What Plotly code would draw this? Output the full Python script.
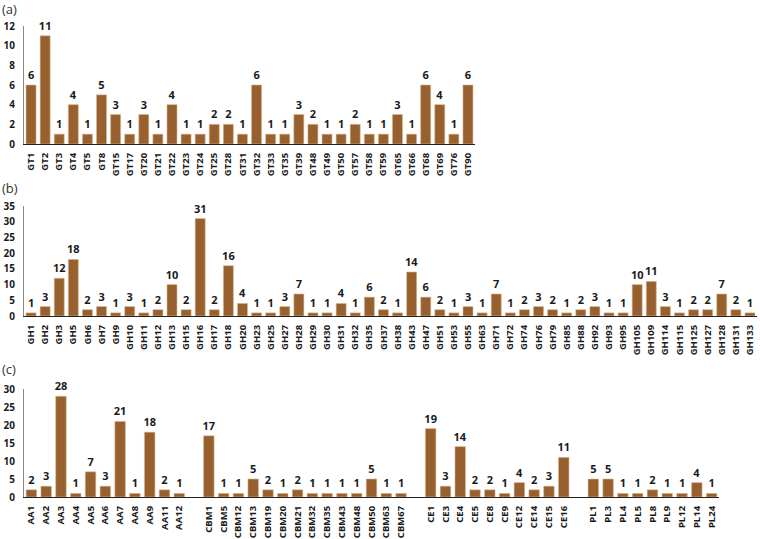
import plotly.graph_objects as go

# Panel (a)
gt_labels = ["GT1","GT2","GT3","GT4","GT5","GT8","GT15","GT17","GT20","GT21","GT22","GT23",
             "GT24","GT25","GT28","GT31","GT32","GT33","GT35","GT39","GT48","GT49","GT50",
             "GT57","GT58","GT59","GT65","GT66","GT68","GT69","GT76","GT90"]
gt_values = [6,11,1,4,1,5,3,1,3,1,4,1,1,2,2,1,6,1,1,3,2,1,1,2,1,1,3,1,6,4,1,6]

# Panel (b)
gh_labels = ["GH1","GH2","GH3","GH5","GH6","GH7","GH9","GH10","GH11","GH12","GH13","GH15",
             "GH16","GH17","GH18","GH20","GH23","GH25","GH27","GH28","GH29","GH30","GH31",
             "GH32","GH35","GH37","GH38","GH43","GH47","GH51","GH53","GH55","GH63","GH71",
             "GH72","GH74","GH76","GH79","GH85","GH88","GH92","GH93","GH95","GH105","GH109",
             "GH114","GH115","GH125","GH127","GH128","GH131","GH133"]
gh_values = [1,3,12,18,2,3,1,3,1,2,10,2,31,2,16,4,1,1,3,7,1,1,4,1,6,2,1,14,6,2,1,3,1,7,
             1,2,3,2,1,2,3,1,1,10,11,3,1,2,2,7,2,1]

# Panel (c) groups
aa_labels = ["AA1","AA2","AA3","AA4","AA5","AA6","AA7","AA8","AA9","AA11","AA12"]
aa_values = [2,3,28,1,7,3,21,1,18,2,1]
cbm_labels = ["CBM1","CBM5","CBM12","CBM13","CBM19","CBM20","CBM21","CBM32","CBM35",
              "CBM43","CBM48","CBM50","CBM63","CBM67"]
cbm_values = [17,1,1,5,2,1,2,1,1,1,1,5,1,1]
ce_labels = ["CE1","CE3","CE4","CE5","CE8","CE9","CE12","CE14","CE15","CE16"]
ce_values = [19,3,14,2,2,1,4,2,3,11]
pl_labels = ["PL1","PL3","PL4","PL5","PL8","PL9","PL12","PL14","PL24"]
pl_values = [5,5,1,1,2,1,1,4,1]

# build panel (c) category list with blank spacer categories between groups
c_labels, c_values = [], []
groups = [(aa_labels, aa_values), (cbm_labels, cbm_values), (ce_labels, ce_values), (pl_labels, pl_values)]
for gi, (labs, vals) in enumerate(groups):
    if gi > 0:
        c_labels.append(" " * gi)
        c_values.append(None)
    c_labels += labs
    c_values += vals

BAR = "#98602f"
EDGE = "#d9b88f"
FONT = "Open Sans"

fig = go.Figure()

def add_bars(labels, values, xa, ya):
    fig.add_trace(go.Bar(
        x=labels, y=values, xaxis=xa, yaxis=ya,
        marker=dict(color=BAR, line=dict(color=EDGE, width=0.6)),
        text=[("" if v is None else str(v)) for v in values],
        textposition="outside", constraintext="none",
        textfont=dict(family=FONT, size=11, color="#1a1a1a", weight="bold"),
        cliponaxis=False, showlegend=False, hoverinfo="x+y",
    ))

add_bars(gt_labels, gt_values, "x", "y")
add_bars(gh_labels, gh_values, "x2", "y2")
add_bars(c_labels, c_values, "x3", "y3")

H = 539.0
W = 760.0
def ydom(top_px, bot_px):
    return [1 - bot_px / H, 1 - top_px / H]

ytickfont = dict(family=FONT, size=10, color="#1a1a1a", weight="bold")
xtickfont = dict(family=FONT, size=9.5, color="#1a1a1a", weight="bold")

def xaxis_cfg(x0, x1, anchor):
    return dict(domain=[x0 / W, x1 / W], anchor=anchor, type="category",
                tickangle=-90, tickfont=xtickfont, showline=True, linecolor="#222222",
                linewidth=1.2, ticks="", showgrid=False, zeroline=False, fixedrange=True,
                ticklabelstandoff=4, ticklabeloverflow="allow", automargin=False)

def yaxis_cfg(top_px, bot_px, rng, dtick, anchor):
    return dict(domain=ydom(top_px, bot_px), anchor=anchor, range=rng, dtick=dtick,
                tickfont=ytickfont, showline=True, linecolor="#8a8a8a", linewidth=1.2,
                ticks="", showgrid=False, zeroline=False, ticklabelstandoff=6,
                fixedrange=True, automargin=False)

fig.update_layout(
    width=760, height=539,
    margin=dict(l=0, r=0, t=0, b=0, autoexpand=False),
    paper_bgcolor="white", plot_bgcolor="white",
    bargap=0.29,
    font=dict(family=FONT),
    xaxis=xaxis_cfg(24, 475, "y"),
    yaxis=yaxis_cfg(26, 144, [0, 12], 2, "x"),
    xaxis2=xaxis_cfg(24, 757, "y2"),
    yaxis2=yaxis_cfg(206, 316, [0, 35], 5, "x2"),
    xaxis3=xaxis_cfg(24, 719, "y3"),
    yaxis3=yaxis_cfg(389, 497, [0, 30], 5, "x3"),
)

for lab, ypx in [("(a)", 9), ("(b)", 188), ("(c)", 369)]:
    fig.add_annotation(text=lab, x=0.0, y=1 - ypx / H, xref="paper", yref="paper",
                       xanchor="left", yanchor="middle", showarrow=False,
                       font=dict(family=FONT, size=13, color="#333333"))

fig.write_html("out.html", config={"displayModeBar": False},
               post_script="document.body.style.margin='0';document.body.style.overflow='hidden';")
